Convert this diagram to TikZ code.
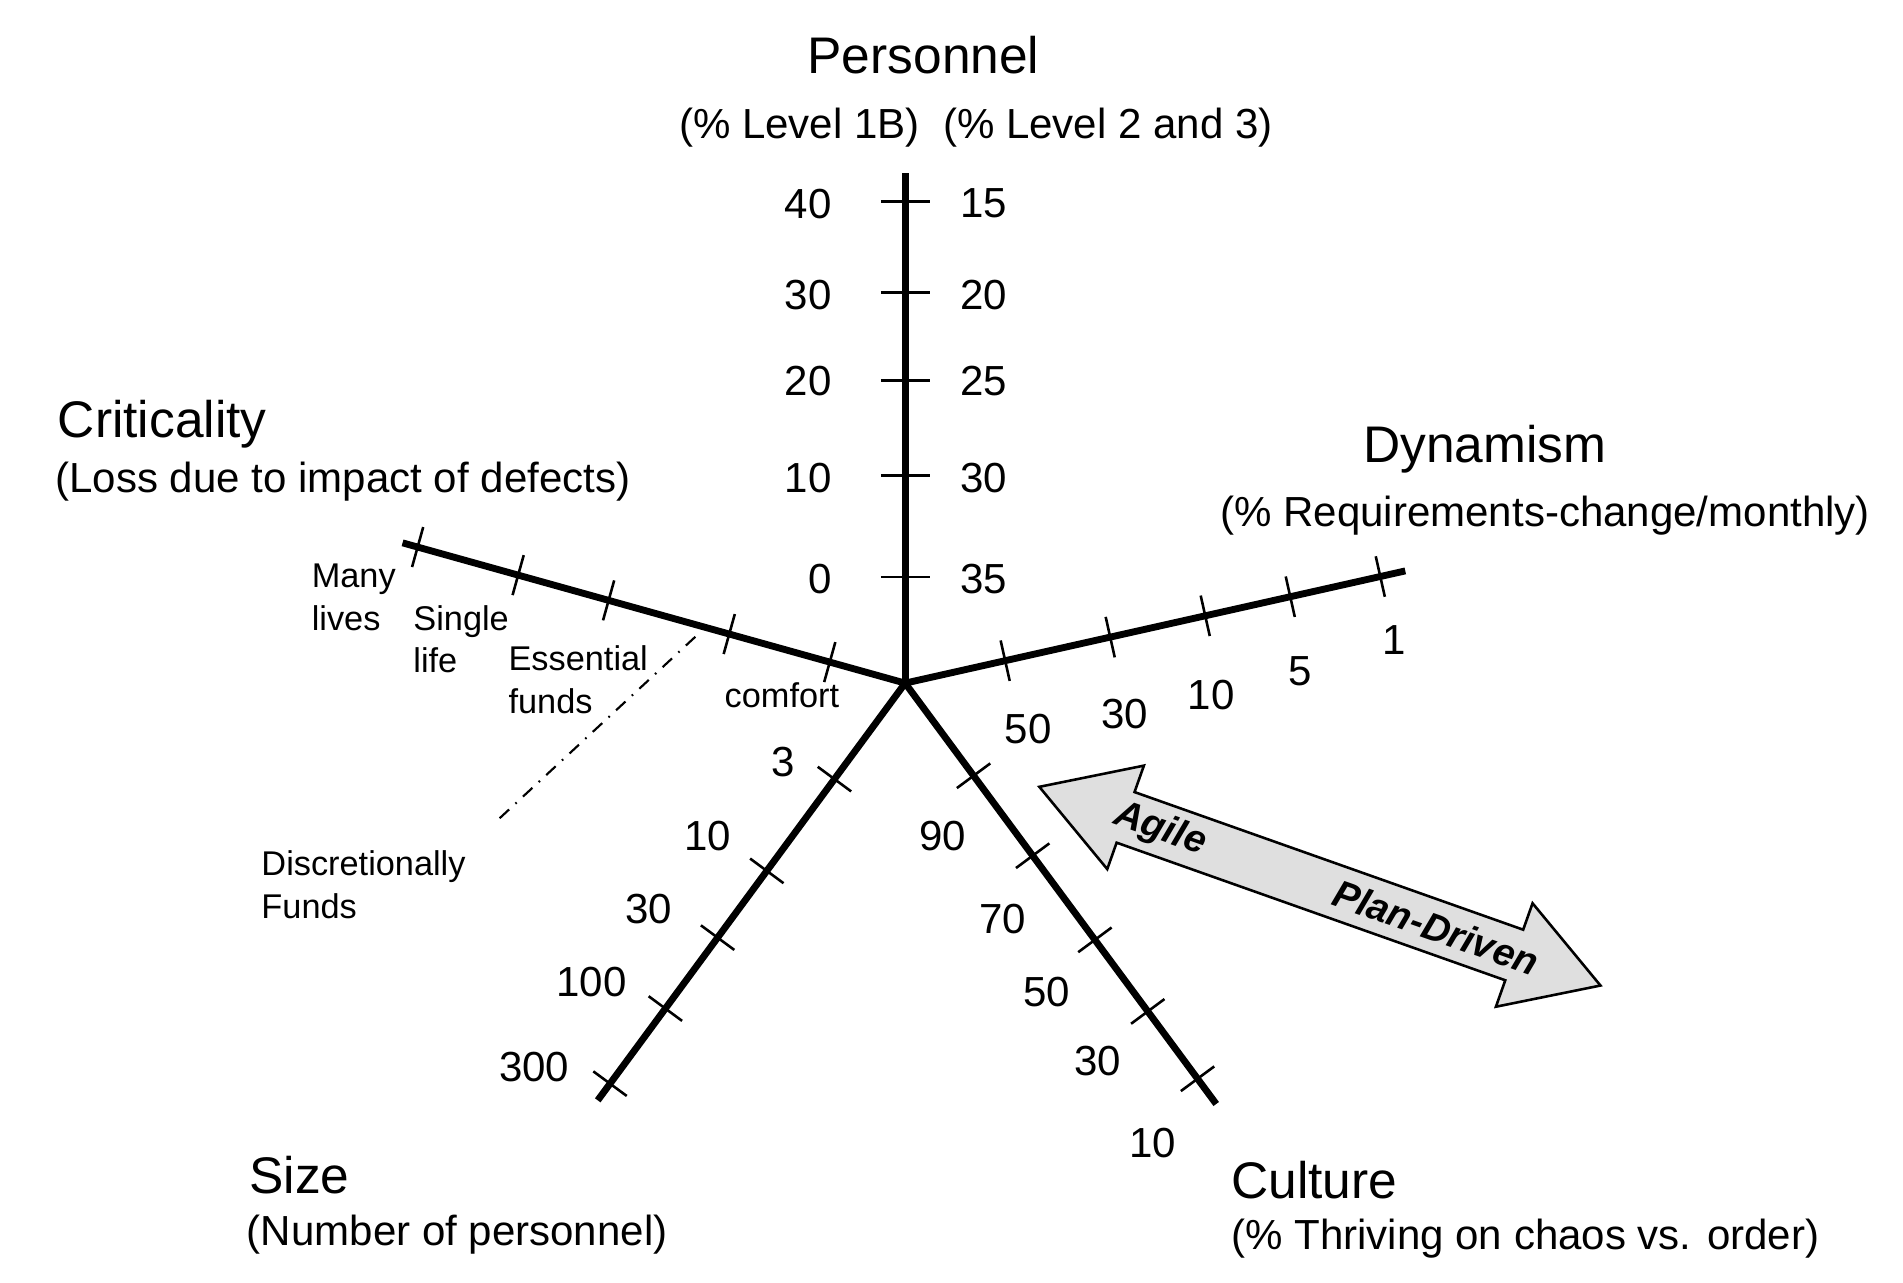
\documentclass[tikz,border=0pt]{standalone}
\usepackage{fontspec}
\setmainfont{Liberation Sans}
\usetikzlibrary{calc}
\begin{document}
\begin{tikzpicture}[x=0.01cm,y=0.01cm,
  axis/.style={line width=1.6pt},
  tick/.style={line width=0.6pt},
  big/.style={font=\fontsize{12}{14}\selectfont},
  sub/.style={font=\fontsize{9.8}{12}\selectfont},
  num/.style={font=\fontsize{9.8}{12}\selectfont},
  small/.style={font=\fontsize{8}{10}\selectfont, align=left}]
\useasboundingbox (0,0) rectangle (1560,-1051);
\coordinate (O) at (742,-560);
\coordinate (P) at (742,-142);
\coordinate (C) at (330,-445);
\coordinate (D) at (1152,-468);
\coordinate (S) at (490,-902);
\coordinate (K) at (997,-905);
\foreach \e in {P,C,D,S,K} \draw[axis] (O) -- (\e);
% Personnel ticks
\foreach \y in {165,240,312,390,473} \draw[tick] (722,-\y) -- (762,-\y);
% ticks on other axes
\foreach \e/\list in {C/{0.15,0.35,0.59,0.77,0.97},D/{0.2,0.41,0.60,0.77,0.95},S/{0.23,0.45,0.61,0.78,0.96},K/{0.22,0.41,0.61,0.78,0.94}}{
  \foreach \t in \list {
    \coordinate (q) at ($(O)!\t!(\e)$);
    \draw[tick] ($(q)!0.17cm!90:(\e)$) -- ($(q)!0.17cm!-90:(\e)$);
  }}
% dash-dot
\coordinate (dd1) at (570,-522);
\coordinate (dd2) at (405,-675);
\draw[dash dot, line width=0.5pt] (dd1) -- (dd2);
% titles
\node[big] (tP) at (757,-45) {Personnel};
\node[sub] (sP) at (800,-105) {(\% Level 1B)\ \ (\% Level 2 and 3)};
\node[big,anchor=west] (tC) at (35,-348) {Criticality};
\node[sub,anchor=west] (sC) at (33,-395) {(Loss due to impact of defects)};
\node[big,anchor=west] (tD) at (1105,-368) {Dynamism};
\node[sub,anchor=west] (sD) at (988,-423) {(\% Requirements-change/monthly)};
\node[big,anchor=west] (tS) at (192,-963) {Size};
\node[sub,anchor=west] (sS) at (190,-1012) {(Number of personnel)};
\node[big,anchor=west] (tK) at (997,-967) {Culture};
\node[sub,anchor=west] (sK) at (997,-1015) {(\% Thriving on chaos vs. order)};
% personnel numbers
\foreach \y/\a/\b in {167/40/15,242/30/20,312/20/25,392/10/30,475/0/35}{
  \node[num,anchor=east] at (694,-\y) {\a};
  \node[num,anchor=west] at (775,-\y) {\b};}
% dynamism
\foreach \x/\y/\v in {843/598/50,922/585/30,993/570/10,1066/550/5,1143/525/1} \node[num] at (\x,-\y) {\v};
% size
\foreach \x/\y/\v in {642/625/3,580/685/10,532/745/30,485/805/100,438/875/300} \node[num] at (\x,-\y) {\v};
% culture
\foreach \x/\y/\v in {773/685/90,822/753/70,858/813/50,900/870/30,945/937/10} \node[num] at (\x,-\y) {\v};
% criticality labels
\node[small] (l1) at (290,-490) {Many\\lives};
\node[small] (l2) at (378,-524) {Single\\life};
\node[small] (l3) at (474,-557) {Essential\\funds};
\node[small] (l4) at (641,-570) {comfort};
\node[small] (l5) at (298,-725) {Discretionally\\Funds};
% arrow
\begin{scope}[shift={(852,-645)}, rotate=-19.5]
\draw[fill=gray!25, line width=0.6pt] (0,0) -- (75,45) -- (75,22) -- (413,22) -- (413,45) -- (488,0) -- (413,-45) -- (413,-22) -- (75,-22) -- (75,-45) -- cycle;
\node[rotate=-19.5, font=\fontsize{9}{11}\selectfont\bfseries\itshape] (ag) at (105,0) {Agile};
\node[rotate=-19.5, font=\fontsize{9}{11}\selectfont\bfseries\itshape] (pd) at (345,0) {Plan-Driven};
\end{scope}
\end{tikzpicture}
\end{document}
